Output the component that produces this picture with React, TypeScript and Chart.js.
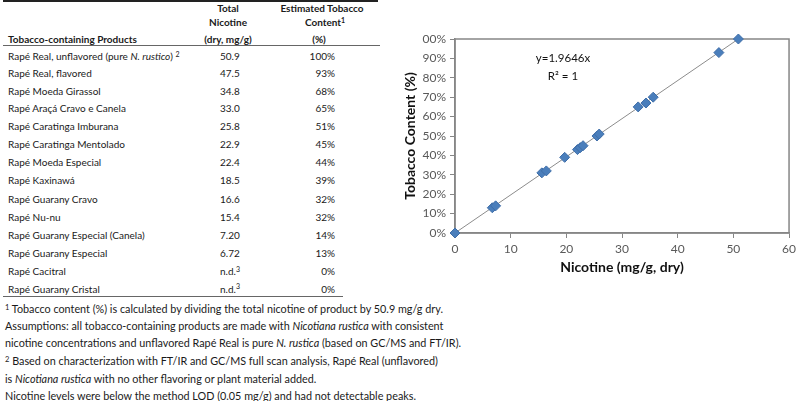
import React, { useEffect, useRef } from "react";
import { Chart, registerables } from "chart.js";

Chart.register(...registerables);

// ---------------- data ----------------
const products = [
  "Rapé Real, unflavored (pure _N. rustico_) ^2^",
  "Rapé Real, flavored",
  "Rapé Moeda Girassol",
  "Rapé Araçá Cravo e Canela",
  "Rapé Caratinga Imburana",
  "Rapé Caratinga Mentolado",
  "Rapé Moeda Especial",
  "Rapé Kaxinawá",
  "Rapé Guarany Cravo",
  "Rapé Nu-nu",
  "Rapé Guarany Especial (Canela)",
  "Rapé Guarany Especial",
  "Rapé Cacitral",
  "Rapé Guarany Cristal",
];
const totalNicotine = ["50.9", "47.5", "34.8", "33.0", "25.8", "22.9", "22.4", "18.5", "16.6", "15.4", "7.20", "6.72", "n.d.^3^", "n.d.^3^"];
const tobaccoContent = ["100%", "93%", "68%", "65%", "51%", "45%", "44%", "39%", "32%", "32%", "14%", "13%", "0%", "0%"];

const footnotes = [
  "^1^ Tobacco content (%) is calculated by dividing the total nicotine of product by 50.9 mg/g dry.",
  "Assumptions: all tobacco-containing products are made with _Nicotiana rustica_ with consistent",
  "nicotine concentrations and unflavored Rapé Real is pure _N. rustica_ (based on GC/MS and FT/IR).",
  "^2^ Based on characterization with FT/IR and GC/MS full scan analysis, Rapé Real (unflavored)",
  "is _Nicotiana rustica_ with no other flavoring or plant material added.",
  "Nicotine levels were below the method LOD (0.05 mg/g) and had not detectable peaks.",
];

// scatter points (nicotine mg/g, tobacco %)
const chartNicotine = [0, 6.7, 7.3, 15.6, 16.4, 19.7, 22.0, 22.5, 23.0, 25.5, 25.9, 32.9, 34.3, 35.6, 47.4, 50.9];
const chartTobacco = [0, 13, 14, 31, 32, 39, 43, 44, 45, 50, 51, 65, 67, 70, 93, 100];

const trendSlope = 1.9646;
const trendEnd = 50.9;
const equationText = "y=1.9646x";
const r2Text = "R² = 1";
const xTitle = "Nicotine (mg/g, dry)";
const yTitle = "Tobacco Content (%)";

// ---------------- layout ----------------
const FONT = "Lato, 'Open Sans', sans-serif";
const rowY = [56, 73, 90.5, 107.5, 125.5, 143.5, 161.5, 180, 199, 217, 235, 253, 271, 288.5];
const footY = [309, 326, 343, 361, 379, 395.5];

function Rich({ text }: { text: string }) {
  const parts = text.split(/(_[^_]+_|\^[^^]+\^)/).filter((p) => p.length > 0);
  return (
    <>
      {parts.map((p, i) => {
        if (p.startsWith("_") && p.endsWith("_")) return <i key={i}>{p.slice(1, -1)}</i>;
        if (p.startsWith("^") && p.endsWith("^"))
          return (
            <span key={i} style={{ fontSize: "0.7em", position: "relative", top: "-0.45em" }}>
              {p.slice(1, -1)}
            </span>
          );
        return <span key={i}>{p}</span>;
      })}
    </>
  );
}

function T({ x, y, align = "left", bold = false, size = 10, children }: any) {
  const lh = 14;
  const style: any = {
    position: "absolute",
    top: y - lh / 2,
    lineHeight: lh + "px",
    fontSize: size,
    fontWeight: bold ? 700 : 400,
    whiteSpace: "nowrap",
  };
  if (align === "left") style.left = x;
  else if (align === "right") style.right = 800 - x;
  else {
    style.left = x;
    style.transform = "translateX(-50%)";
  }
  return <div style={style}>{children}</div>;
}

function Rule({ x1, x2, y, h = 1, color = "#555" }: any) {
  return <div style={{ position: "absolute", left: x1, top: y, width: x2 - x1, height: h, background: color }} />;
}

function ScatterChart() {
  const ref = useRef<HTMLCanvasElement | null>(null);
  useEffect(() => {
    if (!ref.current) return;
    const boxPlugin = {
      id: "boxAndEquation",
      beforeDatasetsDraw(chart: any) {
        const { ctx, chartArea: a } = chart;
        ctx.save();
        ctx.strokeStyle = "#868686";
        ctx.lineWidth = 1.5;
        ctx.strokeRect(a.left, a.top, a.right - a.left, a.bottom - a.top);
        ctx.restore();
      },
      afterDraw(chart: any) {
        const { ctx, chartArea: a } = chart;
        ctx.save();
        ctx.fillStyle = "#111";
        ctx.font = "11.5px " + FONT;
        ctx.textAlign = "center";
        ctx.textBaseline = "middle";
        const cx = a.left + 108;
        ctx.fillText(equationText, cx, a.top + 19);
        ctx.fillText(r2Text, cx, a.top + 37);
        ctx.restore();
      },
    };
    const chart = new Chart(ref.current, {
      type: "scatter",
      data: {
        datasets: [
          {
            data: chartNicotine.map((x, i) => ({ x, y: chartTobacco[i] })),
            pointStyle: "rectRot",
            pointRadius: 5,
            pointHoverRadius: 5,
            backgroundColor: "#4a7ebb",
            borderColor: "#3f6ea8",
            borderWidth: 1,
            clip: false,
            order: 1,
          } as any,
          {
            data: [
              { x: 0, y: 0 },
              { x: trendEnd, y: trendSlope * trendEnd },
            ],
            showLine: true,
            borderColor: "#8c8c8c",
            borderWidth: 1,
            pointRadius: 0,
            clip: false,
            order: 2,
          } as any,
        ],
      },
      options: {
        animation: false,
        responsive: false,
        devicePixelRatio: 1,
        layout: { padding: { left: 0, right: 7, top: 14, bottom: 0 } },
        plugins: { legend: { display: false }, tooltip: { enabled: false } },
        scales: {
          x: {
            type: "linear",
            min: 0,
            max: 60,
            afterFit: (s: any) => {
              s.height = 52;
            },
            ticks: { stepSize: 10, padding: 4, color: "#595959", font: { family: FONT, size: 12 } },
            grid: { drawOnChartArea: false, drawTicks: true, tickLength: 5, color: "#868686" },
            border: { display: true, color: "#868686", width: 1.5 },
            title: {
              display: true,
              text: xTitle,
              color: "#111",
              font: { family: FONT, size: 14, weight: "bold" },
              padding: { top: 0, bottom: 9.6 },
            },
          },
          y: {
            type: "linear",
            min: 0,
            max: 100,
            afterFit: (s: any) => {
              s.width = 60;
            },
            ticks: {
              stepSize: 10,
              padding: 4,
              color: "#595959",
              font: { family: FONT, size: 12 },
              callback: (v: any) => (v === 100 ? "00%" : v + "%"),
            },
            grid: { drawOnChartArea: false, drawTicks: true, tickLength: 5, color: "#868686" },
            border: { display: true, color: "#868686", width: 1.5 },
            title: {
              display: true,
              text: yTitle,
              color: "#111",
              font: { family: FONT, size: 14, weight: "bold" },
              padding: { top: 6.6, bottom: 0 },
            },
          },
        },
      } as any,
      plugins: [boxPlugin],
    });
    return () => chart.destroy();
  }, []);
  return (
    <canvas
      ref={ref}
      width={405}
      height={260}
      style={{ position: "absolute", left: 395, top: 25, width: 405, height: 260 }}
    />
  );
}

export default function App() {
  return (
    <div
      style={{
        position: "fixed",
        left: 0,
        top: 0,
        width: 800,
        height: 401,
        background: "#fff",
        overflow: "hidden",
        fontFamily: FONT,
        color: "#1a1a1a",
      }}
    >
      {/* table rules */}
      <Rule x1={3} x2={378} y={0} h={2} color="#222" />
      <Rule x1={3} x2={380} y={45} h={1} color="#666" />
      <Rule x1={3} x2={343} y={296} h={1} color="#666" />

      {/* header */}
      <T x={228} y={7.5} align="center" bold>Total</T>
      <T x={228} y={22} align="center" bold>Nicotine</T>
      <T x={228} y={39} align="center" bold>(dry, mg/g)</T>
      <T x={322} y={7.5} align="center" bold>Estimated Tobacco</T>
      <T x={325} y={22} align="center" bold><Rich text="Content^1^" /></T>
      <T x={319} y={39} align="center" bold>(%)</T>
      <T x={8} y={39} bold>Tobacco-containing Products</T>

      {/* rows */}
      {products.map((p, i) => (
        <React.Fragment key={i}>
          <T x={8} y={rowY[i]}><Rich text={p} /></T>
          <T x={220} y={rowY[i]}><Rich text={totalNicotine[i]} /></T>
          <T x={335} y={rowY[i]} align="right">{tobaccoContent[i]}</T>
        </React.Fragment>
      ))}

      {/* footnotes */}
      {footnotes.map((f, i) => (
        <T key={i} x={5} y={footY[i]} size={10.8}><Rich text={f} /></T>
      ))}

      <ScatterChart />
    </div>
  );
}
